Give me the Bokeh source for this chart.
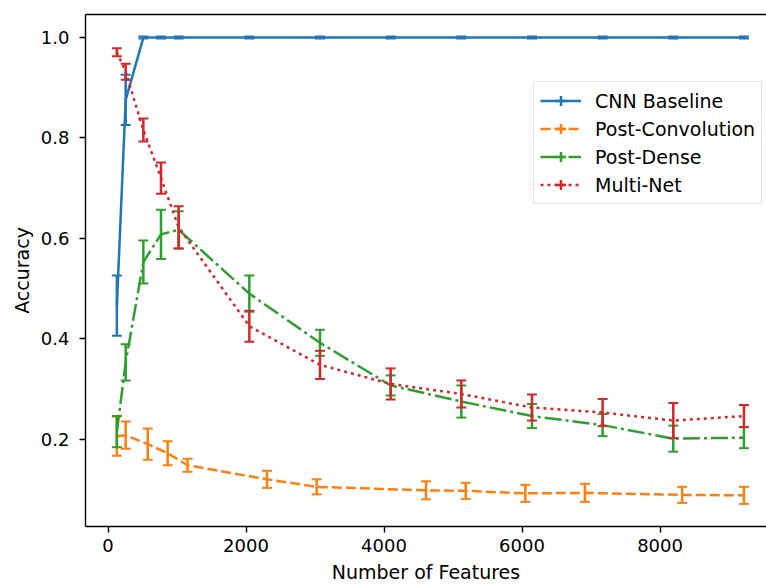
import math
from bokeh.plotting import figure
from bokeh.models import (Range1d, FixedTicker, PrintfTickFormatter, Legend,
                          LegendItem, LinearAxis, ColumnDataSource)
from bokeh.embed import file_html
from bokeh.resources import INLINE

# ---- data ----
features = [128, 256, 512, 768, 1024, 2048, 3072, 4096, 5120, 6144, 7168, 8192, 9216]
conv_features = [128, 256, 576, 864, 1152, 2304, 3024, 4608, 5184, 6048, 6912, 8320, 9216]

cnn_acc = [0.466, 0.876, 1.0, 1.0, 1.0, 1.0, 1.0, 1.0, 1.0, 1.0, 1.0, 1.0, 1.0]
cnn_err = [0.060, 0.050, 0.002, 0.002, 0.002, 0.002, 0.002, 0.002, 0.002, 0.002, 0.002, 0.002, 0.002]

conv_acc = [0.206, 0.208, 0.190, 0.172, 0.148, 0.120, 0.105, 0.098, 0.097, 0.092, 0.093, 0.089, 0.088]
conv_err = [0.039, 0.027, 0.031, 0.024, 0.013, 0.017, 0.015, 0.018, 0.016, 0.017, 0.018, 0.016, 0.017]

dense_acc = [0.215, 0.353, 0.553, 0.608, 0.617, 0.490, 0.392, 0.307, 0.275, 0.246, 0.228, 0.201, 0.203]
dense_err = [0.031, 0.036, 0.043, 0.049, 0.037, 0.036, 0.026, 0.020, 0.032, 0.024, 0.022, 0.026, 0.021]

multi_acc = [0.971, 0.932, 0.816, 0.720, 0.622, 0.425, 0.348, 0.310, 0.290, 0.263, 0.253, 0.237, 0.246]
multi_err = [0.008, 0.016, 0.023, 0.031, 0.042, 0.031, 0.028, 0.031, 0.027, 0.026, 0.027, 0.035, 0.022]

labels = ["CNN Baseline", "Post-Convolution", "Post-Dense", "Multi-Net"]
x_ticks = [0, 2000, 4000, 6000, 8000]
y_ticks = [0.2, 0.4, 0.6, 0.8, 1.0]

series = [
    (labels[0], features, cnn_acc, cnn_err, "#1f77b4", "solid"),
    (labels[1], conv_features, conv_acc, conv_err, "#ff7f0e", "10 4"),
    (labels[2], features, dense_acc, dense_err, "#2ca02c", "17 4 3 4"),
    (labels[3], features, multi_acc, multi_err, "#d62728", "3 4"),
]

FONT = "DejaVu Sans"
TICK_FS = "18px"
LABEL_FS = "19px"

p = figure(width=766, height=585, output_backend="svg", toolbar_location=None,
           x_range=Range1d(-326.4, 9543), y_range=Range1d(0.026, 1.046),
           min_border_left=85, min_border_right=0, min_border_top=14,
           min_border_bottom=57,
           x_axis_label="Number of Features", y_axis_label="Accuracy")
p.outline_line_color = None
p.grid.visible = False
p.background_fill_color = "white"
p.border_fill_color = "white"

for ax in (p.xaxis[0], p.yaxis[0]):
    ax.axis_line_width = 1.4
    ax.axis_line_color = "black"
    ax.major_tick_line_width = 1.4
    ax.major_tick_line_color = "black"
    ax.major_tick_in = 0
    ax.major_tick_out = 6
    ax.minor_tick_line_color = None
    ax.major_label_text_font = FONT
    ax.major_label_text_font_size = TICK_FS
    ax.major_label_text_color = "black"
    ax.axis_label_text_font = FONT
    ax.axis_label_text_font_size = LABEL_FS
    ax.axis_label_text_font_style = "normal"
    ax.axis_label_text_color = "black"

p.xaxis[0].ticker = FixedTicker(ticks=x_ticks)
p.xaxis[0].formatter = PrintfTickFormatter(format="%d")
p.xaxis[0].major_label_standoff = 6
p.xaxis[0].axis_label_standoff = 6
p.yaxis[0].ticker = FixedTicker(ticks=y_ticks)
p.yaxis[0].formatter = PrintfTickFormatter(format="%.1f")
p.yaxis[0].major_label_standoff = 10
p.yaxis[0].axis_label_standoff = 5

top = LinearAxis(ticker=FixedTicker(ticks=[]), axis_line_width=1.4,
                 axis_line_color="black", major_tick_out=0, major_tick_in=0,
                 minor_tick_out=0, minor_tick_in=0, major_label_standoff=0,
                 major_tick_line_color=None, minor_tick_line_color=None)
p.add_layout(top, "above")

items = []
for name, xs, ys, errs, color, dash in series:
    lo = [y - e for y, e in zip(ys, errs)]
    hi = [y + e for y, e in zip(ys, errs)]
    src = ColumnDataSource(dict(x=xs, y=ys, lo=lo, hi=hi))
    line_r = p.line("x", "y", source=src, line_color=color, line_width=2.5,
                    line_dash=dash)
    p.segment(x0="x", y0="lo", x1="x", y1="hi", source=src,
              line_color=color, line_width=2.5)
    p.scatter("x", "lo", source=src, marker="dash", size=10,
              line_color=color, line_width=2)
    p.scatter("x", "hi", source=src, marker="dash", size=10,
              line_color=color, line_width=2)
    cross_r = p.scatter(x=[float("nan")], y=[float("nan")], marker="cross",
                        size=10, line_color=color, line_width=2.5)
    items.append(LegendItem(label=name, renderers=[line_r, cross_r]))

legend = Legend(items=items, location=(448, 322), padding=6, spacing=3,
                glyph_width=41, glyph_height=25, label_height=25,
                label_standoff=14, label_text_font=FONT,
                label_text_font_size=LABEL_FS, label_text_color="black",
                border_line_color="#cccccc", border_line_width=1,
                background_fill_color="white", background_fill_alpha=0.8,
                margin=0)
p.add_layout(legend)

open("out.html", "w").write(file_html(p, INLINE))
